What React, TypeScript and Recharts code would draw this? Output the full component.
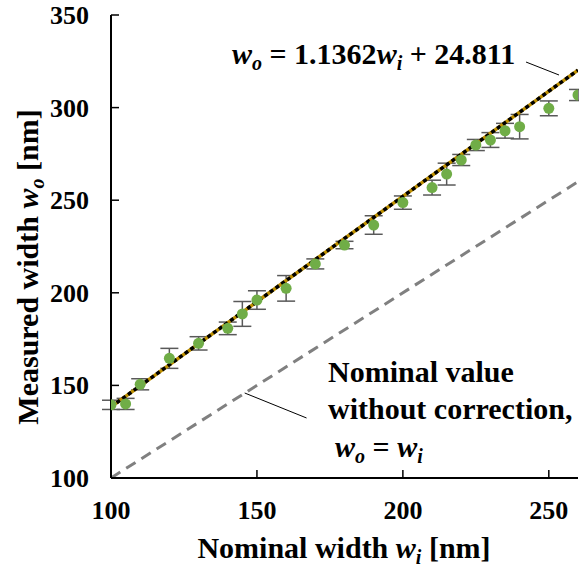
import React from "react";
import {
  ComposedChart,
  ErrorBar,
  Line,
  ReferenceLine,
  Scatter,
  XAxis,
  YAxis,
} from "recharts";

// measured points: nominal width, measured width, error
const nominal = [100, 105, 110, 120, 130, 140, 145, 150, 160, 170, 180, 190, 200, 210, 215, 220, 225, 230, 235, 240, 250, 260];
const measured = [139.5, 140, 150.6, 164.6, 172.7, 180.8, 188.6, 196.1, 202.4, 215.6, 225.8, 236.6, 248.7, 256.8, 264.1, 271.7, 279.8, 282.5, 287.5, 289.7, 299.6, 306.8];
const errors = [2.5, 3, 3, 5.4, 3.6, 3.4, 6.7, 5, 6.9, 2.7, 2, 5, 3.6, 4, 5.9, 3, 3, 4, 4, 6.6, 4, 3];

// fitted trend line end points (w_o = 1.1362 w_i + 24.811)
const fitX = [100, 260];
const fitY = [138.43, 320.22];

// nominal value w_o = w_i
const identX = [100, 260];
const identY = [100, 260];

const xTicks = [100, 150, 200, 250];
const yTicks = [100, 150, 200, 250, 300, 350];

const points = nominal.map((x, i) => ({ x, y: measured[i], err: errors[i] }));
const fitData = fitX.map((x, i) => ({ x, y: fitY[i] }));
const identData = identX.map((x, i) => ({ x, y: identY[i] }));

const font = "'Liberation Serif', 'Times New Roman', serif";

const YTick = (props: any) => {
  const { x, y, payload } = props;
  return (
    <g>
      <line x1={x} x2={x + 8} y1={y} y2={y} stroke="#000" strokeWidth={1.5} />
      <text x={x - 22} y={y + 9} textAnchor="end" fontFamily={font} fontWeight="bold" fontSize={26} fill="#000">
        {payload.value}
      </text>
    </g>
  );
};

const XTick = (props: any) => {
  const { x, y, payload } = props;
  return (
    <g>
      <line x1={x} x2={x} y1={y} y2={y - 8} stroke="#000" strokeWidth={1.5} />
      <text x={x} y={y + 41} textAnchor="middle" fontFamily={font} fontWeight="bold" fontSize={26} fill="#000">
        {payload.value}
      </text>
    </g>
  );
};

const Dot = (props: any) => <circle cx={props.cx} cy={props.cy} r={5.5} fill="#70AD47" />;
const NoDot = () => <g />;

export default function App() {
  return (
    <div style={{ position: "absolute", left: 0, top: 0, width: 579, height: 569, background: "#fff" }}>
      <ComposedChart width={579} height={569} margin={{ top: 15, right: 1, bottom: 0, left: 0 }}>
        <XAxis
          xAxisId="b"
          type="number"
          dataKey="x"
          domain={[100, 260]}
          ticks={xTicks}
          allowDataOverflow
          height={91}
          tickLine={false}
          tickSize={0}
          tickMargin={0}
          tick={<XTick />}
          axisLine={{ stroke: "#000", strokeWidth: 2 }}
        />
        <XAxis xAxisId="t" orientation="top" type="number" domain={[100, 260]} height={0} tick={false} tickLine={false} axisLine={{ stroke: "#000", strokeWidth: 2 }} />
        <YAxis
          yAxisId="l"
          type="number"
          domain={[100, 350]}
          ticks={yTicks}
          allowDataOverflow
          width={111}
          tickLine={false}
          tickSize={0}
          tickMargin={0}
          tick={<YTick />}
          axisLine={{ stroke: "#000", strokeWidth: 2 }}
        />
        <YAxis yAxisId="r" orientation="right" type="number" domain={[100, 350]} width={0} tick={false} tickLine={false} axisLine={{ stroke: "#000", strokeWidth: 2 }} />
        <Line xAxisId="b" yAxisId="l" data={identData} dataKey="y" stroke="#808080" strokeWidth={3} strokeDasharray="11 7" dot={false} isAnimationActive={false} />
        {/* error bars first, markers drawn over them */}
        <Scatter xAxisId="b" yAxisId="l" data={points} dataKey="y" shape={<NoDot />} isAnimationActive={false}>
          <ErrorBar dataKey="err" direction="y" width={9} stroke="#595959" strokeWidth={1.5} isAnimationActive={false} />
        </Scatter>
        <Scatter xAxisId="b" yAxisId="l" data={points} dataKey="y" shape={<Dot />} isAnimationActive={false} />
        <Line xAxisId="b" yAxisId="l" data={fitData} dataKey="y" stroke="#BF9000" strokeWidth={3.5} dot={false} isAnimationActive={false} />
        <Line xAxisId="b" yAxisId="l" data={fitData} dataKey="y" stroke="#000" strokeWidth={3.5} strokeDasharray="4 3" dot={false} isAnimationActive={false} />
        <ReferenceLine xAxisId="b" yAxisId="l" segment={[{ x: 242.2, y: 324.6 }, { x: 253.5, y: 317.6 }]} stroke="#000" strokeWidth={1} />
        <ReferenceLine xAxisId="b" yAxisId="l" segment={[{ x: 145.8, y: 145.9 }, { x: 167, y: 132.4 }]} stroke="#000" strokeWidth={1} />
      </ComposedChart>
      <svg width={579} height={569} style={{ position: "absolute", left: 0, top: 0, pointerEvents: "none" }}>
        <g fontFamily={font} fontWeight="bold" fontSize={30} fill="#000">
          <text transform="translate(38,267) rotate(-90)" textAnchor="middle">
            Measured width <tspan fontStyle="italic">w</tspan>
            <tspan fontStyle="italic" fontSize={20} dy={6}>o</tspan>
            <tspan dy={-6}> [nm]</tspan>
          </text>
          <text x={344} y={558} textAnchor="middle">
            Nominal width <tspan fontStyle="italic">w</tspan>
            <tspan fontStyle="italic" fontSize={20} dy={6}>i</tspan>
            <tspan dy={-6}> [nm]</tspan>
          </text>
          <text x={232} y={64}>
            <tspan fontStyle="italic">w</tspan>
            <tspan fontStyle="italic" fontSize={20} dy={6}>o</tspan>
            <tspan dy={-6}> = 1.1362</tspan>
            <tspan fontStyle="italic">w</tspan>
            <tspan fontStyle="italic" fontSize={20} dy={6}>i</tspan>
            <tspan dy={-6}> + 24.811</tspan>
          </text>
          <text x={328} y={382}>Nominal value</text>
          <text x={328} y={419}>without correction,</text>
          <text x={335} y={457}>
            <tspan fontStyle="italic">w</tspan>
            <tspan fontStyle="italic" fontSize={20} dy={6}>o</tspan>
            <tspan dy={-6}> = </tspan>
            <tspan fontStyle="italic">w</tspan>
            <tspan fontStyle="italic" fontSize={20} dy={6}>i</tspan>
          </text>
        </g>
      </svg>
    </div>
  );
}
